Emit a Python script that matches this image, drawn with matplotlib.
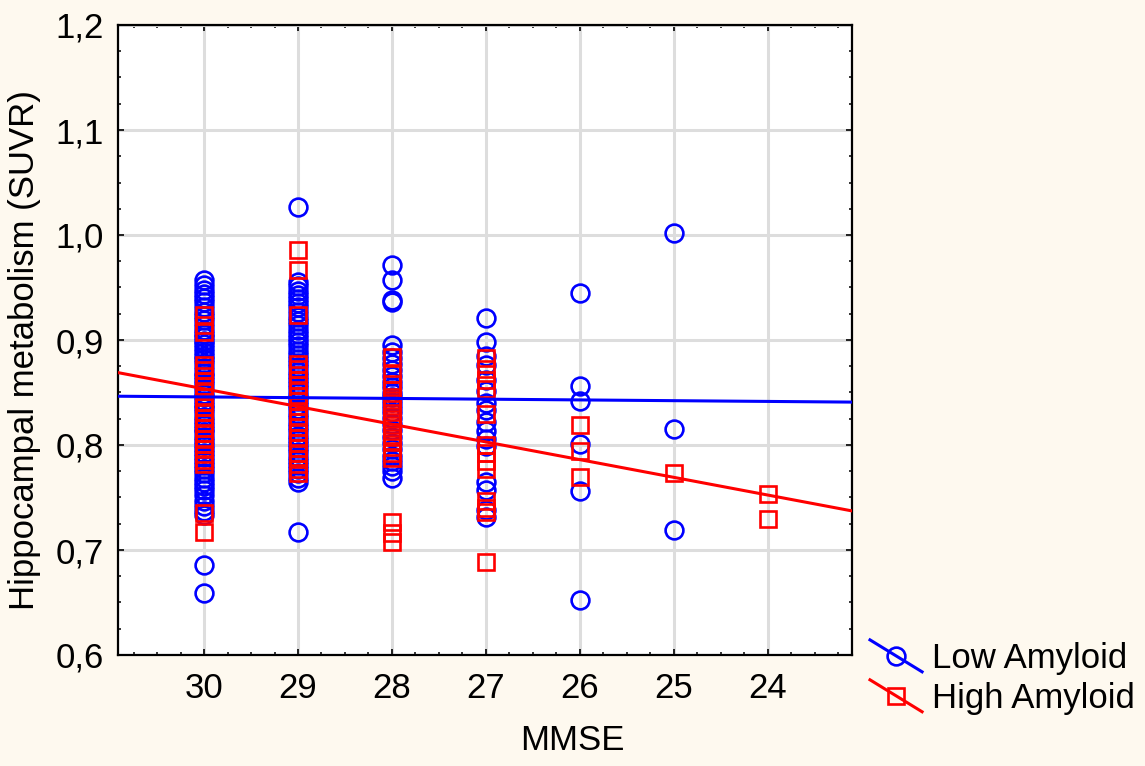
import matplotlib
matplotlib.use("Agg")
import matplotlib.pyplot as plt
import numpy as np
from matplotlib.lines import Line2D
from matplotlib.legend_handler import HandlerBase
from matplotlib.ticker import FixedLocator, MultipleLocator, FuncFormatter

# ---------------- data ----------------
mmse_levels = [30, 29, 28, 27, 26, 25, 24]

low_30 = [0.957, 0.952, 0.948, 0.944, 0.940, 0.936, 0.931, 0.927, 0.923, 0.919, 0.914, 0.910,
          0.906, 0.903, 0.899, 0.896, 0.892, 0.889, 0.885, 0.882, 0.878, 0.873, 0.869, 0.866,
          0.862, 0.858, 0.853, 0.849, 0.846, 0.842, 0.838, 0.835, 0.831, 0.827, 0.823, 0.819,
          0.815, 0.812, 0.808, 0.804, 0.800, 0.796, 0.792, 0.789, 0.785, 0.781, 0.777, 0.773,
          0.769, 0.765, 0.761, 0.757, 0.752, 0.747, 0.742, 0.737, 0.733, 0.686, 0.659]
low_29 = [1.027, 0.955, 0.951, 0.947, 0.943, 0.939, 0.935, 0.931, 0.927, 0.922, 0.918, 0.914,
          0.910, 0.906, 0.902, 0.898, 0.894, 0.890, 0.886, 0.882, 0.878, 0.874, 0.870, 0.866,
          0.862, 0.858, 0.854, 0.850, 0.846, 0.842, 0.838, 0.834, 0.830, 0.826, 0.821, 0.817,
          0.813, 0.809, 0.805, 0.801, 0.797, 0.793, 0.789, 0.785, 0.781, 0.777, 0.773, 0.769,
          0.765, 0.717]
low_28 = [0.971, 0.957, 0.938, 0.936, 0.895, 0.889, 0.883, 0.877, 0.871, 0.866, 0.860, 0.855,
          0.850, 0.846, 0.841, 0.836, 0.831, 0.826, 0.820, 0.814, 0.808, 0.802, 0.796, 0.790,
          0.785, 0.780, 0.775, 0.769]
low_27 = [0.921, 0.898, 0.885, 0.876, 0.862, 0.851, 0.840, 0.833, 0.822, 0.813, 0.806, 0.799,
          0.765, 0.757, 0.738, 0.731]
low_26 = [0.945, 0.856, 0.842, 0.801, 0.756, 0.652]
low_25 = [1.002, 0.815, 0.719]
low_24 = []

high_30 = [0.924, 0.914, 0.908, 0.876, 0.871, 0.866, 0.861, 0.856, 0.851, 0.846, 0.841, 0.836,
           0.831, 0.826, 0.821, 0.816, 0.811, 0.806, 0.801, 0.796, 0.791, 0.786, 0.782,
           0.735, 0.717]
high_29 = [0.986, 0.967, 0.924, 0.877, 0.872, 0.867, 0.862, 0.857, 0.852, 0.847, 0.842, 0.837,
           0.832, 0.827, 0.822, 0.817, 0.812, 0.807, 0.802, 0.797, 0.792, 0.787, 0.782, 0.777,
           0.773]
high_28 = [0.884, 0.868, 0.858, 0.852, 0.846, 0.840, 0.834, 0.828, 0.822, 0.816, 0.810, 0.804,
           0.798, 0.792, 0.788, 0.727, 0.716, 0.708]
high_27 = [0.883, 0.872, 0.862, 0.853, 0.830, 0.800, 0.792, 0.785, 0.777, 0.747, 0.740, 0.736, 0.689]
high_26 = [0.819, 0.794, 0.770]
high_25 = [0.773]
high_24 = [0.753, 0.730]

# fitted regression lines (values read at MMSE 30 and 24)
fit_mmse = [30, 24]
fit_low = [0.8458, 0.8415]
fit_high = [0.8535, 0.7523]

series_names = ["Low Amyloid", "High Amyloid"]
ytick_vals = [0.6, 0.7, 0.8, 0.9, 1.0, 1.1, 1.2]

# ---------------- style ----------------
FS = 25
plt.rcParams['font.family'] = ['Liberation Sans', 'DejaVu Sans']
BG = '#FEF9EF'
BLUE = '#0000FF'
RED = '#FF0000'

W, H = 1145, 766
fig = plt.figure(figsize=(W / 100, H / 100), dpi=100, facecolor=BG)
AX_L, AX_R, AX_T, AX_B = 118, 852, 25, 655
ax = fig.add_axes([AX_L / W, 1 - AX_B / H, (AX_R - AX_L) / W, (AX_B - AX_T) / H])
ax.set_facecolor('white')

xlim = (30.915, 23.106)
ax.set_xlim(*xlim)
ax.set_ylim(0.6, 1.2)

ax.grid(True, which='major', color='#DDDDDD', linewidth=2.2, zorder=0)
ax.set_axisbelow(True)

low_cols = [low_30, low_29, low_28, low_27, low_26, low_25, low_24]
high_cols = [high_30, high_29, high_28, high_27, high_26, high_25, high_24]
lx = [m for m, col in zip(mmse_levels, low_cols) for _ in col]
ly = [v for col in low_cols for v in col]
hx = [m for m, col in zip(mmse_levels, high_cols) for _ in col]
hy = [v for col in high_cols for v in col]

MS = 12.8
MEW = 1.9
ax.plot(lx, ly, linestyle='none', marker='o', markersize=MS, markerfacecolor='none',
        markeredgecolor=BLUE, markeredgewidth=MEW, zorder=3)
ax.plot(hx, hy, linestyle='none', marker='s', markersize=MS - 1.0, markerfacecolor='none',
        markeredgecolor=RED, markeredgewidth=MEW, zorder=4)

def extend(fx, fy):
    slope = (fy[1] - fy[0]) / (fx[1] - fx[0])
    xs = np.array(xlim)
    return xs, fy[0] + slope * (xs - fx[0])

LW = 2.2
xs, ys = extend(fit_mmse, fit_low)
ax.plot(xs, ys, color=BLUE, linewidth=LW, zorder=5)
xs, ys = extend(fit_mmse, fit_high)
ax.plot(xs, ys, color=RED, linewidth=LW, zorder=5)

ax.xaxis.set_major_locator(FixedLocator(mmse_levels))
ax.xaxis.set_minor_locator(MultipleLocator(0.25))
ax.yaxis.set_major_locator(FixedLocator(ytick_vals))
ax.yaxis.set_minor_locator(MultipleLocator(0.025))
ax.xaxis.set_major_formatter(FuncFormatter(lambda v, p: f"{v:.0f}"))
ax.yaxis.set_major_formatter(FuncFormatter(lambda v, p: f"{v:.1f}".replace('.', ',')))

ax.tick_params(which='both', direction='in', top=True, right=True, labelsize=FS, colors='black')
ax.tick_params(axis='x', which='major', length=4.5, width=1.2, pad=12)
ax.tick_params(axis='y', which='major', length=4.5, width=1.2, pad=10)
ax.tick_params(which='minor', length=2.2, width=1.1)
for s in ax.spines.values():
    s.set_linewidth(1.6)
    s.set_color('black')

ax.set_xlabel("MMSE", fontsize=FS)
# label is centred on the whole figure width, as in the original
ax.xaxis.set_label_coords((W / 2 - AX_L) / (AX_R - AX_L), -(740 - AX_B) / (AX_B - AX_T))
ax.xaxis.label.set_verticalalignment('center')
ax.set_ylabel("Hippocampal metabolism (SUVR)", fontsize=FS)
ax.yaxis.set_label_coords(-(AX_L - 25) / (AX_R - AX_L), (AX_B - 350) / (AX_B - AX_T))
ax.yaxis.label.set_verticalalignment('center')

# ---------------- legend ----------------
class DiagHandler(HandlerBase):
    def create_artists(self, legend, orig_handle, xdescent, ydescent, width, height,
                       fontsize, trans):
        x0, x1 = -xdescent, width - xdescent
        cy = height / 2 - ydescent
        dy = 11.5
        c = orig_handle.get_markeredgecolor()
        ln = Line2D([x0, x1], [cy + dy, cy - dy], color=c, linewidth=LW)
        mk = Line2D([(x0 + x1) / 2], [cy], linestyle='none', marker=orig_handle.get_marker(),
                    markersize=orig_handle.get_markersize(), markerfacecolor='none',
                    markeredgecolor=c, markeredgewidth=MEW)
        ln.set_transform(trans)
        mk.set_transform(trans)
        return [ln, mk]

h_low = Line2D([], [], marker='o', markersize=MS, markeredgecolor=BLUE, color=BLUE)
h_high = Line2D([], [], marker='s', markersize=MS - 1.0, markeredgecolor=RED, color=RED)
fig.legend([h_low, h_high], series_names, loc='upper left',
           bbox_to_anchor=(870 / W, 1 - 642 / H), frameon=False, fontsize=FS,
           handler_map={Line2D: DiagHandler()}, handlelength=1.5, handletextpad=0.28,
           borderpad=0, borderaxespad=0, labelspacing=0.2)

fig.savefig("out.png", dpi=100, facecolor=BG)
